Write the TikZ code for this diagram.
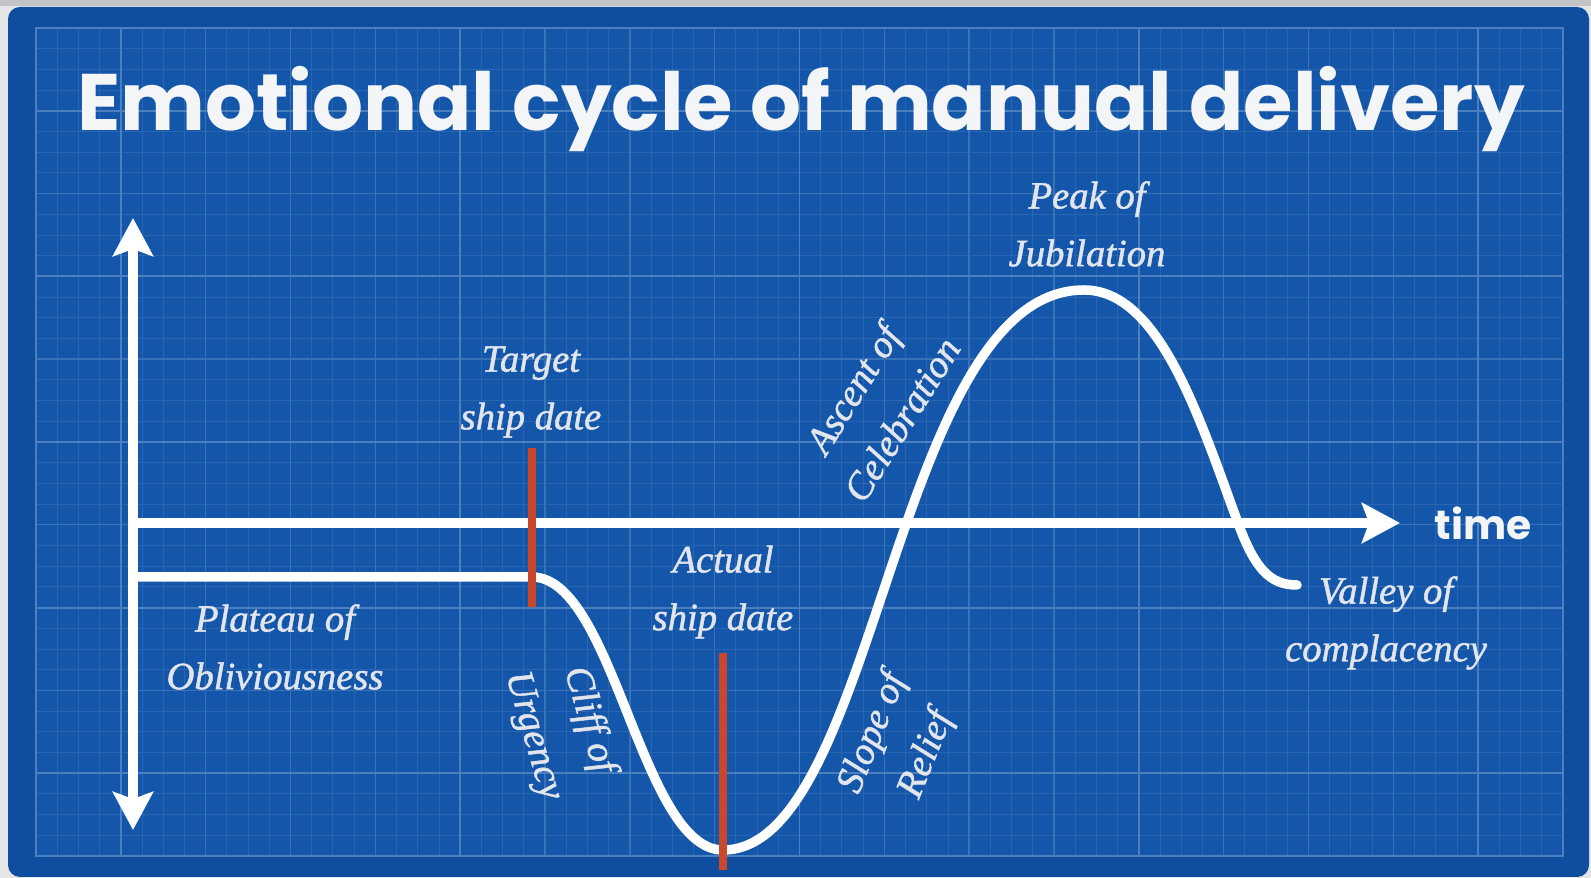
\documentclass[tikz,border=0pt]{standalone}
\usepackage{fontspec}
\usepackage{xcolor}
\usetikzlibrary{arrows.meta,positioning,calc}
\newfontfamily\headfont{Poppins}
\newfontfamily\notefont{Liberation Serif}[ItalicFeatures={FakeBold=1.2}]
\definecolor{Paper}{HTML}{E4E5E7}
\definecolor{PaperEdge}{HTML}{C2C3C5}
\definecolor{Print}{HTML}{1457AA}
\definecolor{PrintDark}{HTML}{0F4E9F}
\definecolor{Chalk}{HTML}{E2E5EC}
\definecolor{Rust}{HTML}{C9482C}
\tikzset{
  axistip/.tip={Stealth[length=0.38cm, width=0.40cm, inset=0.07cm]},
  gridminor/.style={draw=Print!91!white, line width=0.25pt},
  gridmid/.style={draw=Print!84!white, line width=0.4pt},
  gridmajor/.style={draw=Print!76!white, line width=0.55pt},
  axis/.style={white, line width=2.7pt},
  mood/.style={white, line width=2.7pt, line cap=round, line join=round},
  marker/.style={Rust, line width=2.3pt},
  note/.style={text=Chalk, font=\notefont\itshape\fontsize{11}{16.4}\selectfont, align=center, inner sep=0pt},
  headline/.style={text=Chalk!40!white, font=\headfont\bfseries\fontsize{22.8}{27}\selectfont, inner sep=0pt}
}

\begin{document}
\begin{tikzpicture}
  \useasboundingbox (0,0) rectangle (15.91,8.78);
  % paper and blueprint sheet
  \fill[Paper] (0,0) rectangle (15.91,8.78);
  \fill[PaperEdge] (0,8.72) rectangle (15.91,8.78);
  \fill[PrintDark, rounded corners=0.12cm] (0.08,0.01) rectangle (15.89,8.71);
  \fill[Print] (0.36,0.22) rectangle (15.63,8.50);

  % grid
  \foreach \i in {0,...,72}
    \draw[gridminor] ({0.36+\i*0.21208},0.22) -- ++(0,8.28);
  \foreach \j in {0,...,40}
    \draw[gridminor] (0.36,{0.22+\j*0.207}) -- ++(15.27,0);
  \foreach \i in {0,4,...,72}
    \draw[gridmid] ({0.36+\i*0.21208},0.22) -- ++(0,8.28);
  \foreach \j in {0,4,...,40}
    \draw[gridmid] (0.36,{0.22+\j*0.207}) -- ++(15.27,0);
  \foreach \i in {4,20,...,68}
    \draw[gridmajor] ({0.36+\i*0.21208},0.22) -- ++(0,8.28);
  \foreach \j in {4,12,...,36}
    \draw[gridmajor] (0.36,{0.22+\j*0.207}) -- ++(15.27,0);
  \draw[gridmajor] (0.36,0.22) rectangle (15.63,8.50);

  \node[headline, anchor=base] (title) at (8.01,7.47) {Emotional cycle of manual delivery};

  % axes
  \coordinate (origin) at (1.33,3.55);
  \coordinate (ybottom) at (1.33,0.48);
  \coordinate (ytop) at (1.33,6.60);
  \coordinate (tend) at (14.00,3.55);
  \draw[axis, {axistip}-{axistip}] (ybottom) -- (ytop);
  \draw[axis, -{axistip}] (origin) -- (tend);
  \node[headline, font=\headfont\bfseries\fontsize{11.6}{14}\selectfont, anchor=base west] (time) at (14.34,3.38) {time};

  % the mood curve
  \coordinate (start) at (1.33,3.01);
  \coordinate (target) at (5.32,3.01);
  \coordinate (trough) at (7.23,0.28);
  \coordinate (peak) at (10.84,5.88);
  \coordinate (cross) at (12.38,3.55);
  \coordinate (valley) at (12.97,2.93);
  \draw[mood] (start) -- (target)
    .. controls +(0.82,0) and +(-0.82,0) .. (trough)
    .. controls +(1.55,0) and +(-1.90,0) .. (peak)
    .. controls +(0.76,0) and (12.00,4.58) .. (cross)
    .. controls (12.55,3.09) and +(-0.27,0) .. (valley);

  % ship dates
  \draw[marker] ([yshift=-0.30cm]target) -- ([yshift=1.29cm]target);
  \draw[marker] ([yshift=-0.20cm]trough) -- ([yshift=1.97cm]trough);

  % labels
  \node[note] (targetlbl) at (5.31,4.86) {Target\\ship date};
  \node[note] (actuallbl) at (7.23,2.86) {Actual\\ship date};
  \node[note] (plateau) at (2.75,2.31) {Plateau of\\Obliviousness};
  \node[note, rotate=-74] (cliff) at (5.61,1.50) {Cliff of\\Urgency};
  \node[note, rotate=68] (slope) at (9.00,1.34) {Slope of\\Relief};
  \node[note, rotate=58] (ascent) at (8.77,4.74) {Ascent of\\Celebration};
  \node[note] (peaklbl) at (10.87,6.54) {Peak of\\Jubilation};
  \node[note] (valleylbl) at (13.86,2.55) {Valley of\\complacency};
\end{tikzpicture}
\end{document}
